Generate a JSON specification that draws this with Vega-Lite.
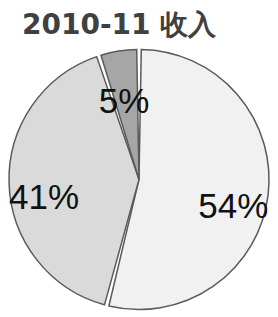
{
  "$schema": "https://vega.github.io/schema/vega-lite/v6.json",
  "width": 278,
  "height": 317,
  "autosize": {"type": "fit", "contains": "padding"},
  "padding": {"top": 12, "left": 0, "right": 0, "bottom": 4},
  "background": "white",
  "view": {"stroke": null},
  "title": {"text": "2010-11 收入", "font": "DejaVu Sans", "fontSize": 28, "fontWeight": "bold", "color": "#404040", "anchor": "start", "dx": 22, "offset": 6},
  "data": {"values": [
    {"category": "A", "value": 54, "label": "54%"},
    {"category": "B", "value": 41, "label": "41%"},
    {"category": "C", "value": 5, "label": "5%"}
  ]},
  "encoding": {
    "theta": {"field": "value", "type": "quantitative", "stack": true},
    "order": {"field": "category", "type": "nominal"}
  },
  "layer": [
    {
      "mark": {"type": "arc", "outerRadius": 130, "padAngle": 0.035, "stroke": "#5a5a5a", "strokeWidth": 1.5},
      "encoding": {
        "color": {"field": "category", "type": "nominal", "scale": {"domain": ["A", "B", "C"], "range": ["#f1f1f1", "#dadada", "#a6a6a6"]}, "legend": null}
      }
    },
    {
      "mark": {"type": "text", "radius": 95, "fontSize": 35, "font": "Liberation Sans", "color": "#111111", "dy": 16},
      "encoding": {"text": {"field": "label"}}
    }
  ]
}
